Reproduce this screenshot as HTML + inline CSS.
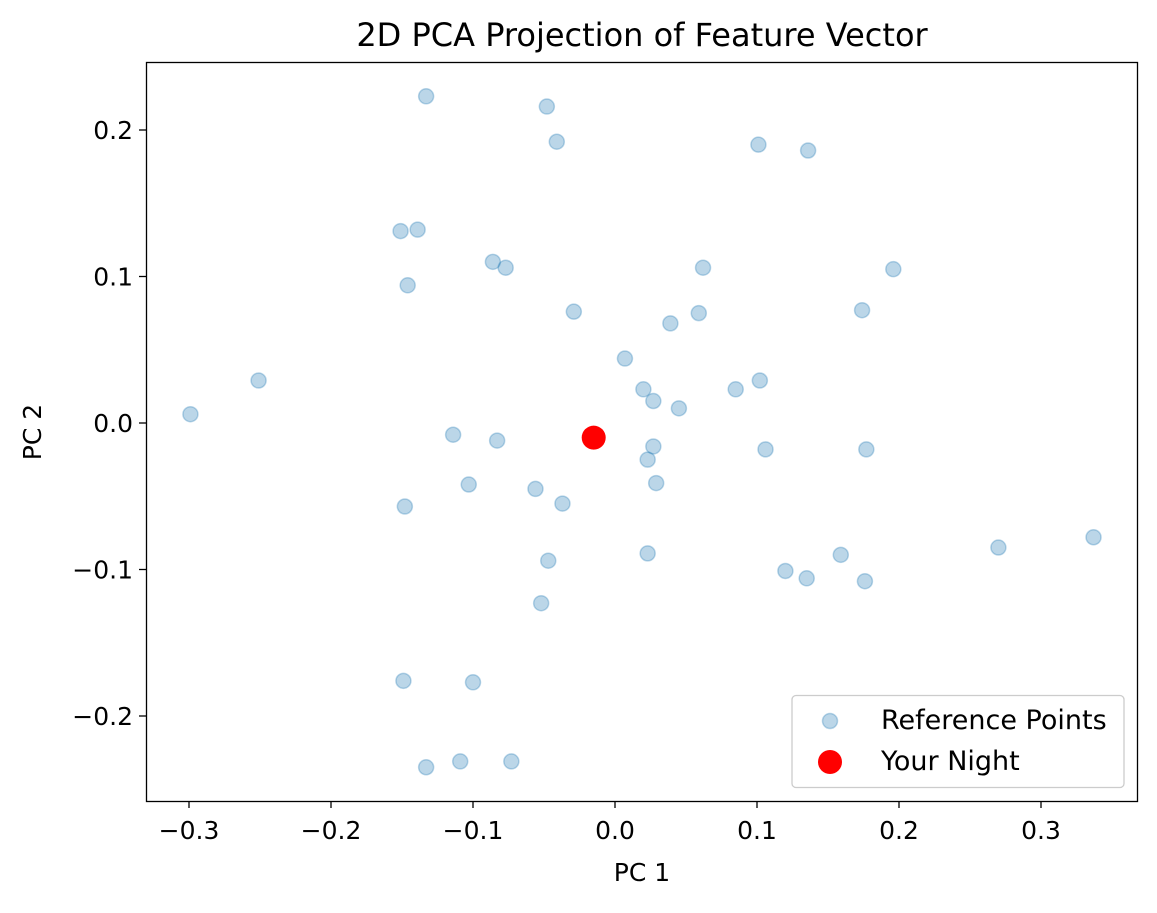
<!DOCTYPE html>
<html><head><meta charset="utf-8"><style>
body{margin:0;background:#fff;}
svg text{font-family:"DejaVu Sans","Liberation Sans",sans-serif;fill:#000;font-size:25px;}
</style></head><body>
<svg id="chart" width="1157" height="908" xmlns="http://www.w3.org/2000/svg">
<rect width="1157" height="908" fill="#fff"/>
<text x="642" y="46" text-anchor="middle" style="font-size:32px">2D PCA Projection of Feature Vector</text>
<g id="ticks"></g>
<g id="points"></g>
<rect x="146.5" y="62.5" width="991" height="739" fill="none" stroke="#000" stroke-width="1.3"/>
<text x="642" y="881" text-anchor="middle" style="font-size:25px">PC 1</text>
<text transform="translate(41,432) rotate(-90)" text-anchor="middle" style="font-size:25px">PC 2</text>
<g>
<rect x="792" y="695.5" width="332" height="92" rx="4" fill="#fff" fill-opacity="0.8" stroke="#ccc" stroke-width="1.3"/>
<circle cx="830" cy="721" r="7.5" fill="rgba(31,119,180,0.3)" stroke="rgba(31,119,180,0.3)" stroke-width="1.5"/>
<text x="881" y="729" style="font-size:27px">Reference Points</text>
<circle cx="830" cy="762" r="12" fill="#ff0000"/>
<text x="881" y="770" style="font-size:27px">Your Night</text>
</g>
</svg>
<script>
const refX=[-0.133,-0.048,-0.041,0.101,0.136,-0.151,-0.139,-0.086,-0.077,0.062,0.196,-0.146,-0.029,0.039,0.059,0.174,0.007,-0.251,0.020,0.027,0.045,0.085,0.102,-0.299,-0.114,-0.083,0.027,0.023,0.106,0.177,-0.103,-0.056,-0.037,0.029,-0.148,-0.047,0.023,-0.052,0.120,0.135,0.159,0.176,0.270,0.337,-0.149,-0.100,-0.133,-0.109,-0.073];
const refY=[0.223,0.216,0.192,0.190,0.186,0.131,0.132,0.110,0.106,0.106,0.105,0.094,0.076,0.068,0.075,0.077,0.044,0.029,0.023,0.015,0.010,0.023,0.029,0.006,-0.008,-0.012,-0.016,-0.025,-0.018,-0.018,-0.042,-0.045,-0.055,-0.041,-0.057,-0.094,-0.089,-0.123,-0.101,-0.106,-0.090,-0.108,-0.085,-0.078,-0.176,-0.177,-0.235,-0.231,-0.231];
const nightX=[-0.015];
const nightY=[-0.010];
const xTicks=[-0.3,-0.2,-0.1,0.0,0.1,0.2,0.3];
const yTicks=[-0.2,-0.1,0.0,0.1,0.2];
const xTickLabels=["\u22120.3","\u22120.2","\u22120.1","0.0","0.1","0.2","0.3"];
const yTickLabels=["\u22120.2","\u22120.1","0.0","0.1","0.2"];
const NS="http://www.w3.org/2000/svg";
function sx(v){return 615+v*1420;}
function sy(v){return 423-v*1465;}
function mk(t,a){const e=document.createElementNS(NS,t);for(const k in a)e.setAttribute(k,a[k]);return e;}
const tg=document.getElementById('ticks');
xTicks.forEach((v,i)=>{
 const l=mk('line',{x1:sx(v),x2:sx(v),y1:801,y2:808,stroke:'#000','stroke-width':1.3});
 
 
 tg.appendChild(l);
 const t=mk('text',{x:sx(v),y:839,'text-anchor':'middle',style:'font-size:25px'});
 t.textContent=xTickLabels[i];
 
 
 tg.appendChild(t);
});
yTicks.forEach((v,i)=>{
 const l=mk('line',{x1:139,x2:146,y1:sy(v),y2:sy(v),stroke:'#000','stroke-width':1.3});
 
 
 tg.appendChild(l);
 const t=mk('text',{x:133,y:sy(v)+9,'text-anchor':'end',style:'font-size:25px'});
 t.textContent=yTickLabels[i];
 
 
 tg.appendChild(t);
});
const pg=document.getElementById('points');
refX.forEach((v,i)=>{
 const c=mk('circle',{cx:sx(v),cy:sy(refY[i]),r:7.5,fill:'rgba(31,119,180,0.3)',stroke:'rgba(31,119,180,0.3)','stroke-width':1.5});
 
 
 pg.appendChild(c);
});
nightX.forEach((v,i)=>{
 const c=mk('circle',{cx:sx(v),cy:sy(nightY[i]),r:12,fill:'#ff0000'});
 
 
 pg.appendChild(c);
});
</script>
</body></html>
